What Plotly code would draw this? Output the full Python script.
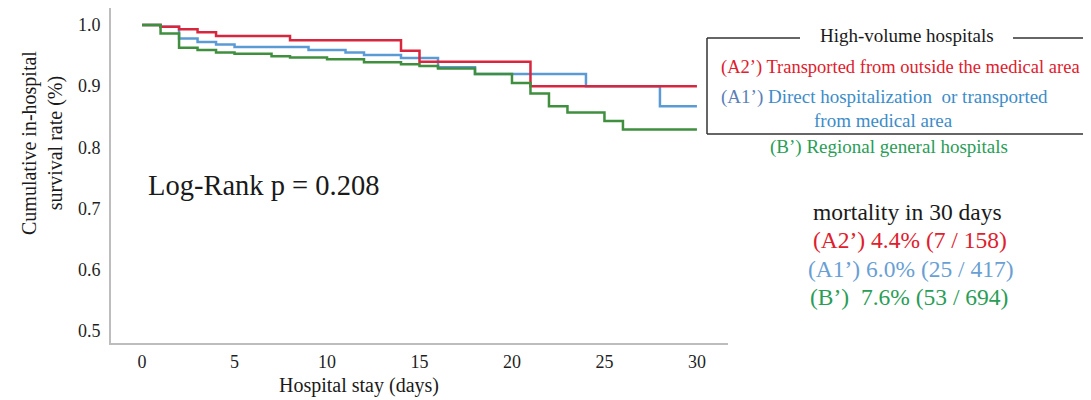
import plotly.graph_objects as go

# ---- data ----
days_a2 = [0, 1, 2, 3, 4, 8, 14, 15, 21, 30]
surv_a2 = [1.0, 0.997, 0.993, 0.988, 0.982, 0.975, 0.958, 0.940, 0.900, 0.900]

days_a1 = [0, 1, 2, 3, 4, 5, 9, 11, 12, 14, 16, 18, 24, 28, 30]
surv_a1 = [1.0, 0.997, 0.978, 0.972, 0.968, 0.964, 0.959, 0.955, 0.951, 0.946,
           0.931, 0.920, 0.900, 0.867, 0.867]

days_b = [0, 1, 2, 3, 4, 5, 7, 8, 10, 12, 14, 15, 16, 18, 20, 21, 22, 23, 25, 26, 30]
surv_b = [1.0, 0.986, 0.963, 0.959, 0.955, 0.953, 0.949, 0.947, 0.944, 0.939, 0.936,
          0.933, 0.929, 0.920, 0.905, 0.888, 0.867, 0.857, 0.843, 0.829, 0.829]

x_ticks = [0, 5, 10, 15, 20, 25, 30]
y_ticks = [0.5, 0.6, 0.7, 0.8, 0.9, 1.0]
y_tick_labels = ["0.5", "0.6", "0.7", "0.8", "0.9", "1.0"]

RED = "#d7263d"
BLUE = "#5b9bd5"
GREEN = "#3f8f3f"
TXT_RED = "#e0202c"
TXT_BLUE = "#3d8cc8"
TXT_BLUE2 = "#5b80b8"
TXT_GREEN = "#2a9d57"
FONT = "Liberation Serif"

OFF = 8  # page body margin
W, H = 1091 - OFF, 400 - OFF
L, R, T, B = 111, 728, 8, 343  # plot area in page pixels


def px(x):
    return (x - L) / (R - L)


def py(y):
    return (B - y) / (B - T)


fig = go.Figure()
for d, s, c, n in [(days_a1, surv_a1, BLUE, "A1'"), (days_a2, surv_a2, RED, "A2'"),
                   (days_b, surv_b, GREEN, "B'")]:
    fig.add_trace(go.Scatter(x=d, y=s, mode="lines", line=dict(color=c, width=2.5, shape="hv"),
                             name=n, showlegend=False, hoverinfo="skip"))

fig.update_layout(
    width=W, height=H,
    margin=dict(l=L - OFF, r=W - (R - OFF), t=T - OFF, b=H - (B - OFF), pad=0),
    paper_bgcolor="white", plot_bgcolor="white",
    font=dict(family=FONT, color="#262626"),
    showlegend=False,
)
fig.update_xaxes(range=[-1.68, 31.68], tickvals=x_ticks, showgrid=False, zeroline=False,
                 showline=True, linecolor="#bdbdbd", linewidth=2, ticks="", automargin=False,
                 tickfont=dict(family=FONT, size=18, color="#1f1f1f"), ticklabelstandoff=1)
fig.update_yaxes(range=[0.48, 1.0278], tickvals=y_ticks, ticktext=y_tick_labels, showgrid=False,
                 zeroline=False, showline=True, linecolor="#bdbdbd", linewidth=2, ticks="",
                 automargin=False,
                 tickfont=dict(family=FONT, size=18, color="#1f1f1f"), ticklabelstandoff=5)

anns = []


def ann(text, x, y, size, color="#1a1a1a", xanchor="center", angle=0):
    anns.append(dict(text=text, x=px(x), y=py(y), xref="paper", yref="paper", showarrow=False,
                     xanchor=xanchor, yanchor="middle", textangle=angle,
                     font=dict(family=FONT, size=size, color=color)))


ann("Hospital stay (days)", 359, 385, 20)
ann("Cumulative in-hospital<br>survival rate (%)", 42, 143, 20, angle=-90)
ann("Log-Rank p = 0.208", 263, 185, 28.5)

ann("High-volume hospitals", 907, 35, 19)
ann("(A2’) Transported from outside the medical area", 719, 68, 18.5, TXT_RED, xanchor="left")
ann(f"<span style='color:{TXT_BLUE2}'>(A1’)</span> Direct hospitalization  or transported",
    719, 97, 19, TXT_BLUE, xanchor="left")
ann("from medical area", 883, 120, 19, TXT_BLUE)
ann("(B’) Regional general hospitals", 889, 147, 19, TXT_GREEN)

ann("mortality in 30 days", 907, 212, 23.5)
ann("(A2’) 4.4% (7 / 158)", 910, 240, 23.5, TXT_RED)
ann("(A1’) 6.0% (25 / 417)", 911, 269, 23.5, "#6a9fd4")
ann("(B’)  7.6% (53 / 694)", 909, 297, 23.5, TXT_GREEN)
fig.update_layout(annotations=anns)

shapes = []
LC = "#333333"
for (x0, y0, x1, y1) in [(707, 38, 800, 38), (1013, 38, 1100, 38), (707, 38, 707, 134),
                         (707, 134, 1100, 134)]:
    shapes.append(dict(type="line", xref="paper", yref="paper", x0=px(x0), y0=py(y0),
                       x1=px(x1), y1=py(y1), line=dict(color=LC, width=1.5)))
fig.update_layout(shapes=shapes)

fig.write_html("out.html")
